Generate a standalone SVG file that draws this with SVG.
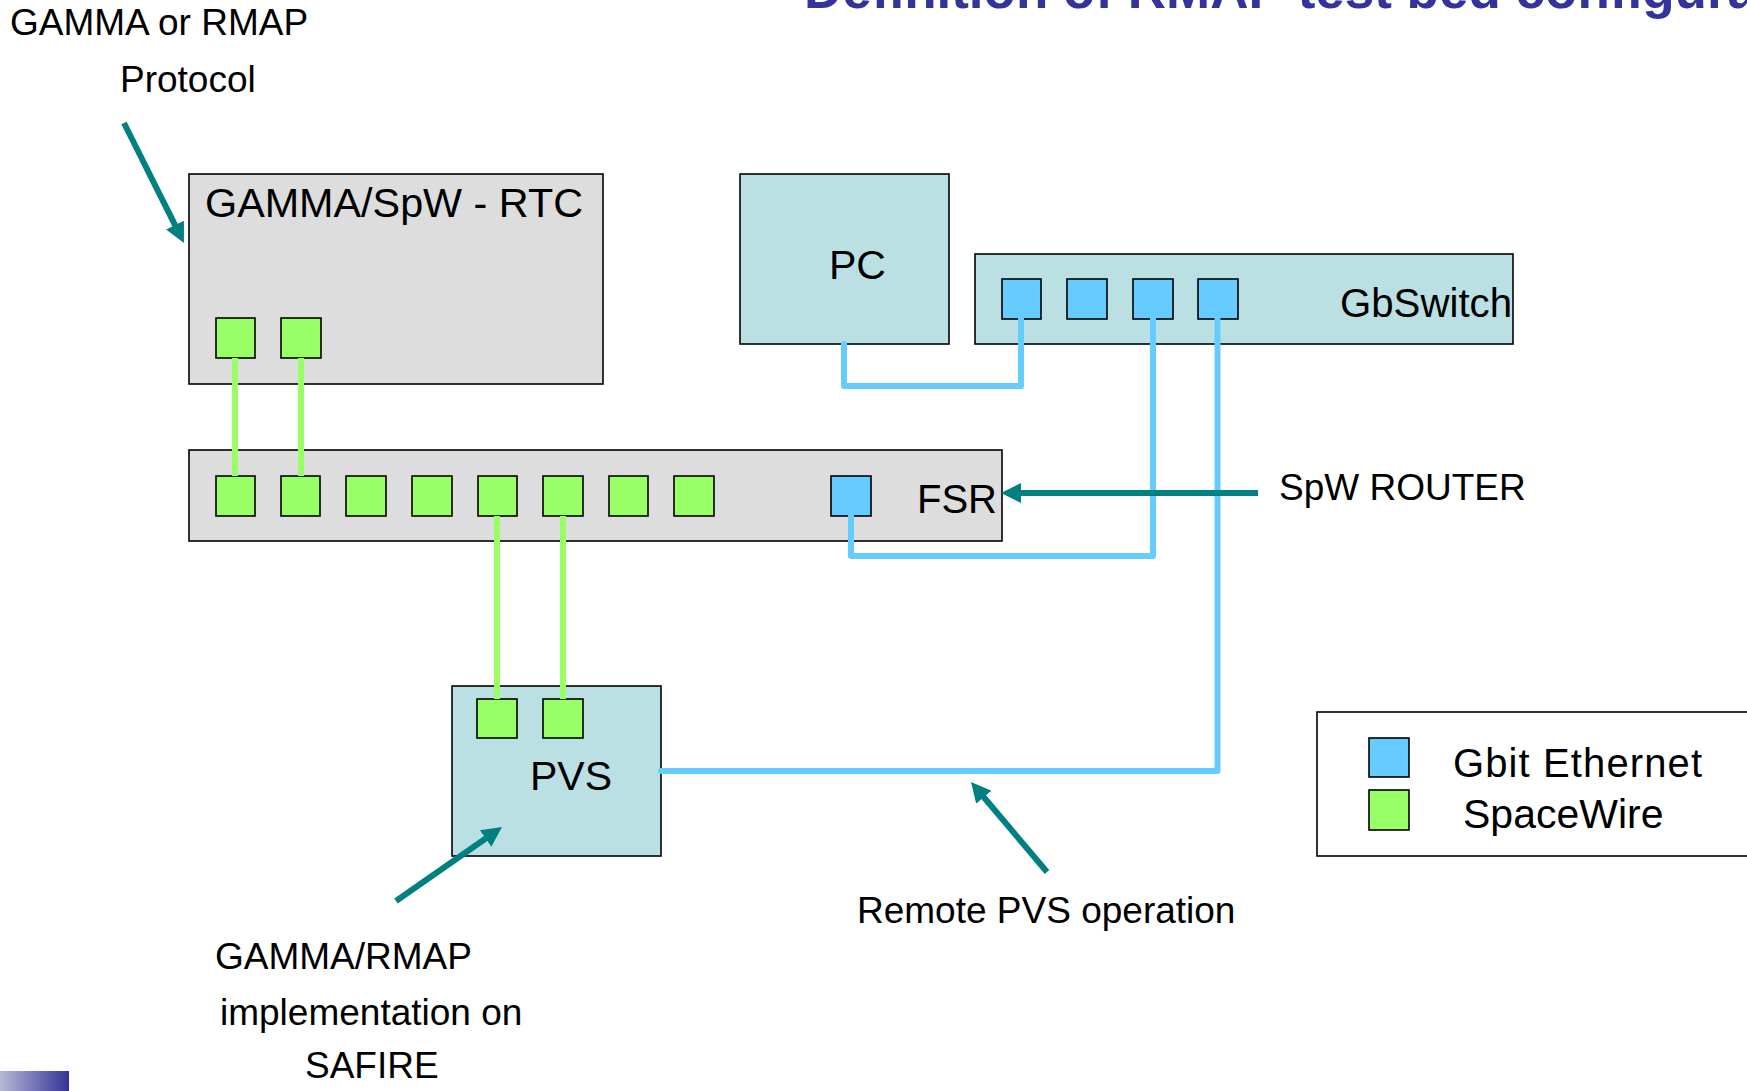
<svg xmlns="http://www.w3.org/2000/svg" width="1747" height="1091" viewBox="0 0 1747 1091">
<defs>
<style>
.t{font-family:"Liberation Sans",Arial,sans-serif;fill:#000}
.gray{fill:#DDDDDD;stroke:#000;stroke-width:1.6}
.cyan{fill:#BBE0E3;stroke:#000;stroke-width:1.6}
.g{fill:#99FF66;stroke:#000;stroke-width:1.6}
.b{fill:#66CCFF;stroke:#000;stroke-width:1.6}
.gl{fill:none;stroke:#99FF66;stroke-width:6}
.bl{fill:none;stroke:#66CCFF;stroke-width:6;stroke-linejoin:round;stroke-linecap:round}
.ar{fill:none;stroke:#008080;stroke-width:6;marker-end:url(#ah)}
</style>
<marker id="ah" viewBox="0 0 20 20" refX="4" refY="10" markerWidth="20" markerHeight="20" markerUnits="userSpaceOnUse" orient="auto">
<path d="M0,0 L20,10 L0,20 z" fill="#008080"/>
</marker>
<linearGradient id="bar" x1="0" y1="0" x2="1" y2="0">
<stop offset="0" stop-color="#B8B8D6"/>
<stop offset="1" stop-color="#333399"/>
</linearGradient>
</defs>
<rect width="1747" height="1091" fill="#fff"/>
<text class="t" x="804" y="8" font-size="53" font-weight="bold" style="fill:#333399">Definition of RMAP test bed configuration</text>
<rect x="0" y="1071" width="69" height="20" fill="url(#bar)"/>

<g id="rtc">
<rect class="gray" x="189" y="174" width="414" height="210"/>
<text class="t" x="205" y="217" font-size="41" textLength="378" lengthAdjust="spacingAndGlyphs">GAMMA/SpW - RTC</text>
<rect class="g" x="216" y="318" width="39" height="40"/>
<rect class="g" x="281" y="318" width="40" height="40"/>
</g>
<g id="pc">
<rect class="cyan" x="740" y="174" width="209" height="170"/>
<text class="t" x="829" y="279" font-size="41">PC</text>
</g>
<g id="gbswitch">
<rect class="cyan" x="975" y="254" width="538" height="90"/>
<rect class="b" x="1002" y="279" width="39" height="40"/>
<rect class="b" x="1067" y="279" width="40" height="40"/>
<rect class="b" x="1133" y="279" width="40" height="40"/>
<rect class="b" x="1198" y="279" width="40" height="40"/>
<text class="t" x="1340" y="317" font-size="40" textLength="172" lengthAdjust="spacingAndGlyphs">GbSwitch</text>
</g>
<g id="fsr">
<rect class="gray" x="189" y="450" width="813" height="91"/>
<rect class="g" x="216" y="476" width="39" height="40"/>
<rect class="g" x="281" y="476" width="39" height="40"/>
<rect class="g" x="346" y="476" width="40" height="40"/>
<rect class="g" x="412" y="476" width="40" height="40"/>
<rect class="g" x="478" y="476" width="39" height="40"/>
<rect class="g" x="543" y="476" width="40" height="40"/>
<rect class="g" x="609" y="476" width="39" height="40"/>
<rect class="g" x="674" y="476" width="40" height="40"/>
<rect class="b" x="831" y="476" width="40" height="40"/>
<text class="t" x="917" y="513" font-size="40">FSR</text>
</g>
<g id="pvs">
<rect class="cyan" x="452" y="686" width="209" height="170"/>
<rect class="g" x="477" y="699" width="40" height="39"/>
<rect class="g" x="543" y="699" width="40" height="39"/>
<text class="t" x="530" y="790" font-size="41">PVS</text>
</g>
<g id="legend">
<rect x="1317" y="712" width="440" height="144" fill="#fff" stroke="#000" stroke-width="1.6"/>
<rect class="b" x="1369" y="738" width="40" height="39"/>
<rect class="g" x="1369" y="790" width="40" height="40"/>
<text class="t" x="1453" y="777" font-size="40" textLength="249" lengthAdjust="spacing">Gbit  Ethernet</text>
<text class="t" x="1463" y="828" font-size="41">SpaceWire</text>
</g>

<g id="connectors">
<line class="gl" x1="235" y1="358" x2="235" y2="476"/>
<line class="gl" x1="301" y1="358" x2="301" y2="476"/>
<line class="gl" x1="497" y1="516" x2="497" y2="699"/>
<line class="gl" x1="563" y1="516" x2="563" y2="699"/>
<path class="bl" d="M844,344 V386 H1021 V319"/>
<path class="bl" d="M851,516 V556 H1153 V319"/>
<path class="bl" d="M661,771 H1217.5 V319"/>
</g>

<g id="annotations">
<line class="ar" x1="124" y1="123" x2="176.8" y2="228.7"/>
<line class="ar" x1="396" y1="901" x2="488.9" y2="836.2"/>
<line class="ar" x1="1047" y1="872" x2="981.3" y2="794.2"/>
<line class="ar" x1="1258" y1="493" x2="1017" y2="493"/>
<text class="t" x="10" y="35" font-size="37">GAMMA or RMAP</text>
<text class="t" x="120" y="92" font-size="37">Protocol</text>
<text class="t" x="1279" y="500" font-size="37">SpW ROUTER</text>
<text class="t" x="857" y="923" font-size="37">Remote PVS operation</text>
<text class="t" x="215" y="969" font-size="37">GAMMA/RMAP</text>
<text class="t" x="220" y="1025" font-size="37">implementation on</text>
<text class="t" x="305" y="1078" font-size="37">SAFIRE</text>
</g>
</svg>
